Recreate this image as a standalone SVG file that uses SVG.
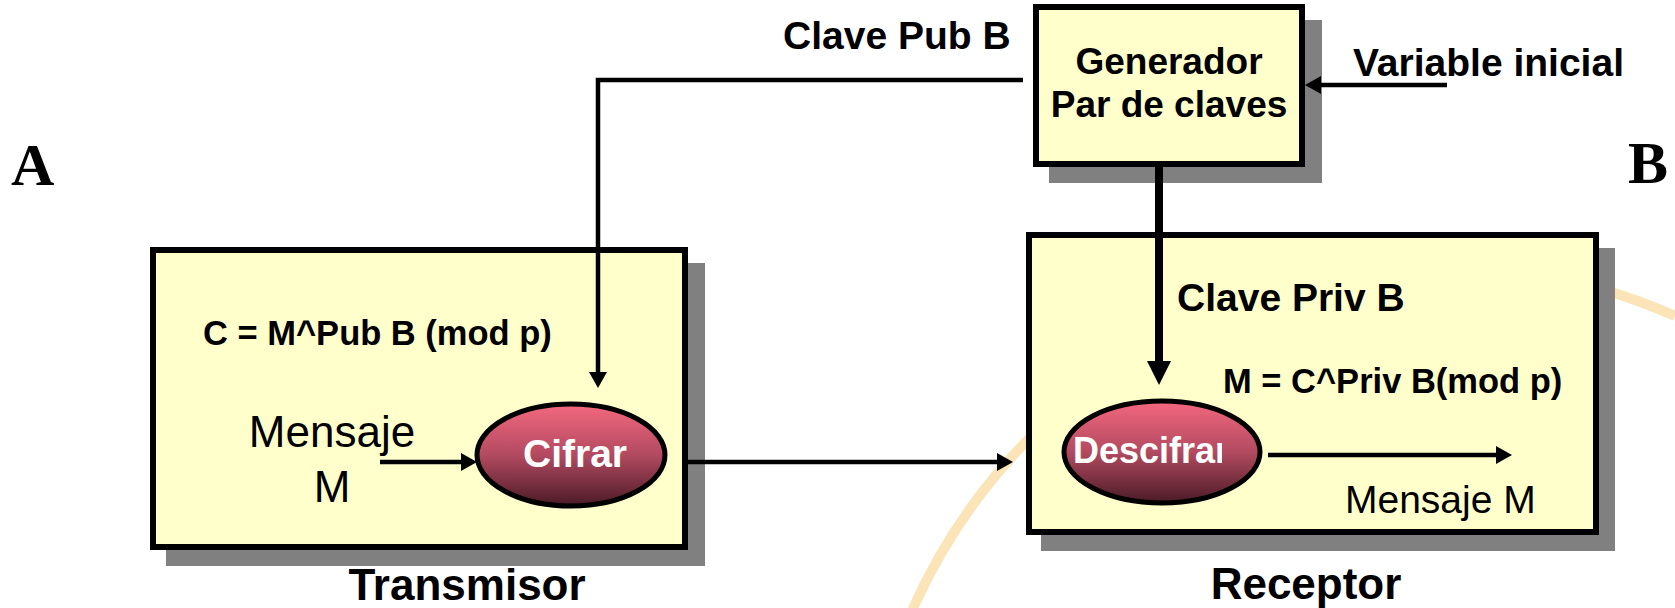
<svg xmlns="http://www.w3.org/2000/svg" width="1675" height="608" viewBox="0 0 1675 608">
<style>
.box{fill:#ffffcc;stroke:#000;stroke-width:6}
.shadow{fill:#808080}
.lbl{font-family:"Liberation Sans",Arial,sans-serif;font-weight:bold;fill:#000}
.reg{font-family:"Liberation Sans",Arial,sans-serif;fill:#000}
.big{font-family:"Liberation Serif","Times New Roman",serif;font-weight:bold;font-size:60px;fill:#000}
.oval{fill:url(#ovalGrad);stroke:#000;stroke-width:5}
.ovtxt{font-family:"Liberation Sans",Arial,sans-serif;font-weight:bold;fill:#fff}
.conn{fill:none;stroke:#000;stroke-width:4.5;stroke-linejoin:miter}
.wm{fill:none;stroke:#fbe4b8;stroke-width:10}
</style>
<defs>
<linearGradient id="ovalGrad" x1="0" y1="0" x2="0" y2="1">
<stop offset="0" stop-color="#f4687f"/>
<stop offset="0.5" stop-color="#b24a60"/>
<stop offset="1" stop-color="#4a1a26"/>
</linearGradient>
<marker id="arr" markerUnits="userSpaceOnUse" markerWidth="18" markerHeight="18" refX="8" refY="9" orient="auto">
<path d="M0,0 L16,9 L0,18 z" fill="#000"/>
</marker>
<marker id="arrBig" markerUnits="userSpaceOnUse" markerWidth="26" markerHeight="26" refX="12" refY="12" orient="auto">
<path d="M0,0 L24,12 L0,24 z" fill="#000"/>
</marker>
<clipPath id="descClip"><rect x="1060" y="400" width="162" height="110"/></clipPath>
</defs>

<g id="watermark">
<path class="wm" d="M908,620 A578,578 0 0 1 1675,316"/>
</g>

<text class="big" x="11" y="185">A</text>
<text class="big" x="1628" y="183">B</text>

<g id="transmisor">
<rect class="shadow" x="166" y="263" width="539" height="303"/>
<rect class="box" x="153" y="250" width="532" height="297"/>
<text class="lbl" x="203" y="345" font-size="34.5">C = M^Pub B (mod p)</text>
<text class="reg" x="332" y="447" font-size="44" text-anchor="middle">Mensaje</text>
<text class="reg" x="332" y="502" font-size="44" text-anchor="middle">M</text>
<text class="lbl" x="467" y="600" font-size="44" text-anchor="middle">Transmisor</text>
</g>

<g id="cifrar">
<ellipse class="oval" cx="571" cy="455" rx="94" ry="51"/>
<text class="ovtxt" x="575" y="467" font-size="39" text-anchor="middle">Cifrar</text>
</g>

<g id="generador">
<rect class="shadow" x="1049" y="20" width="273" height="163"/>
<rect class="box" x="1036" y="7" width="266" height="157"/>
<text class="lbl" x="1169" y="74" font-size="37" text-anchor="middle">Generador</text>
<text class="lbl" x="1169" y="117" font-size="37" text-anchor="middle">Par de claves</text>
</g>

<g id="receptor">
<rect class="shadow" x="1041" y="248" width="574" height="303"/>
<rect class="box" x="1029" y="235" width="567" height="297"/>
<text class="lbl" x="1177" y="311" font-size="39">Clave Priv B</text>
<text class="lbl" x="1223" y="393" font-size="34.5">M = C^Priv B(mod p)</text>
<text class="reg" x="1345" y="513" font-size="39">Mensaje M</text>
<text class="lbl" x="1306" y="599" font-size="44" text-anchor="middle">Receptor</text>
</g>

<g id="descifrar">
<ellipse class="oval" cx="1162" cy="452" rx="98" ry="51"/>
<text class="ovtxt" x="1073" y="463" font-size="36" clip-path="url(#descClip)">Descifrar</text>
</g>

<g id="labels">
<text class="lbl" x="783" y="49" font-size="39">Clave Pub B</text>
<text class="lbl" x="1353" y="76" font-size="39">Variable inicial</text>
</g>

<g id="connectors">
<path class="conn" d="M1023,80 H598 V380" marker-end="url(#arr)"/>
<path class="conn" d="M380,462 H469" marker-end="url(#arr)"/>
<path class="conn" d="M686,462 H1005" marker-end="url(#arr)"/>
<path class="conn" d="M1447,85 H1313" marker-end="url(#arr)"/>
<path class="conn" d="M1268,455 H1504" marker-end="url(#arr)"/>
<path class="conn" style="stroke-width:8" d="M1159,167 V373" marker-end="url(#arrBig)"/>
</g>
</svg>
